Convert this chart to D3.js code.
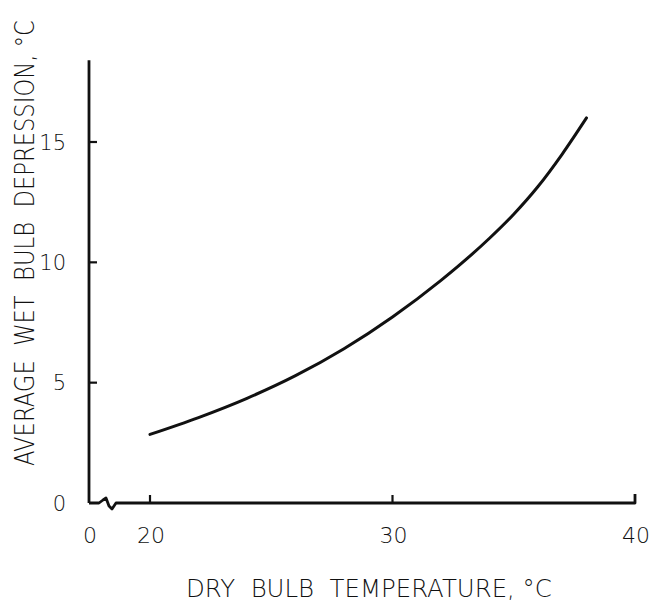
<!DOCTYPE html>
<html>
<head>
<meta charset="utf-8">
<script src="https://cdn.jsdelivr.net/npm/d3@7"></script>
<style>
  body { margin: 0; background: #fff; }
  text { font-family: "DejaVu Sans", sans-serif; font-weight: 200; fill: #111; white-space: pre; }
</style>
</head>
<body>
<script>
// dry bulb temperature (°C) vs average wet bulb depression (°C)
const dryBulb = [20, 22, 24, 26, 28, 30, 32, 34, 35, 36, 37, 38];
const wetDepression = [2.85, 3.55, 4.35, 5.29, 6.41, 7.73, 9.25, 11.0, 12.0, 13.15, 14.5, 16.0];
const xTicks = [0, 20, 30, 40];
const yTicks = [0, 5, 10, 15];

const W = 656, H = 602;
const svg = d3.select("body").append("svg")
  .attr("width", W)
  .attr("height", H);

// broken x axis: 0..20 squeezed, 20..40 linear
const x = d3.scaleLinear().domain([0, 20, 40]).range([89, 150, 635]);
const y = d3.scaleLinear().domain([0, 15]).range([503, 142]);

const ink = "#111";

// y axis line
svg.append("line")
  .attr("x1", x(0)).attr("x2", x(0))
  .attr("y1", y(0)).attr("y2", y(18.4))
  .style("stroke", ink).style("stroke-width", 2.8);

// y ticks (inward)
svg.selectAll(".ytick")
  .data(yTicks.filter(d => d > 0))
  .enter()
  .append("line")
  .attr("x1", x(0)).attr("x2", x(0) + 8)
  .attr("y1", d => y(d)).attr("y2", d => y(d))
  .style("stroke", ink).style("stroke-width", 2.2);

svg.selectAll(".ylab")
  .data(yTicks)
  .enter()
  .append("text")
  .attr("x", 66)
  .attr("y", d => y(d))
  .attr("dy", "0.36em")
  .attr("text-anchor", "end")
  .style("font-size", "21px")
  .text(d => d);

// x axis with break squiggle
const x0 = x(0), yb = y(0);
const axisPath = d3.path();
axisPath.moveTo(x0, yb);
axisPath.lineTo(x0 + 10, yb);
axisPath.lineTo(x0 + 14, yb - 3);
axisPath.lineTo(x0 + 17, yb - 5);
axisPath.lineTo(x0 + 20, yb + 3);
axisPath.lineTo(x0 + 23, yb + 6);
axisPath.lineTo(x0 + 27, yb);
axisPath.lineTo(x(40), yb);
axisPath.lineTo(x(40), yb - 9);
svg.append("path")
  .attr("d", axisPath.toString())
  .style("fill", "none")
  .style("stroke", ink).style("stroke-width", 2.8)
  .style("stroke-linejoin", "round");

svg.selectAll(".xtick")
  .data([20, 30])
  .enter()
  .append("line")
  .attr("x1", d => x(d)).attr("x2", d => x(d))
  .attr("y1", yb).attr("y2", yb - 8)
  .style("stroke", ink).style("stroke-width", 2.2);

svg.selectAll(".xlab")
  .data(xTicks)
  .enter()
  .append("text")
  .attr("x", d => x(d) + 1)
  .attr("y", 543)
  .attr("text-anchor", "middle")
  .style("font-size", "22px")
  .text(d => d);

// curve
const line = d3.line()
  .x((d, i) => x(dryBulb[i]))
  .y(d => y(d))
  .curve(d3.curveMonotoneX);

svg.append("path")
  .datum(wetDepression)
  .attr("d", line)
  .style("fill", "none")
  .style("stroke", ink)
  .style("stroke-width", 3)
  .style("stroke-linecap", "round");

// axis titles: squeeze horizontally to the lettering's width
function title(txt, size, width, place) {
  const t = svg.append("text")
    .style("font-size", size + "px")
    .text(txt);
  const k = width / t.node().getComputedTextLength();
  t.attr("transform", place + " scale(" + k + ",1)");
}
title("DRY  BULB  TEMPERATURE, °C", 24, 366, "translate(186,597)");
title("AVERAGE  WET  BULB  DEPRESSION, °C", 27, 446, "translate(34,466) rotate(-90)");
</script>
</body>
</html>
